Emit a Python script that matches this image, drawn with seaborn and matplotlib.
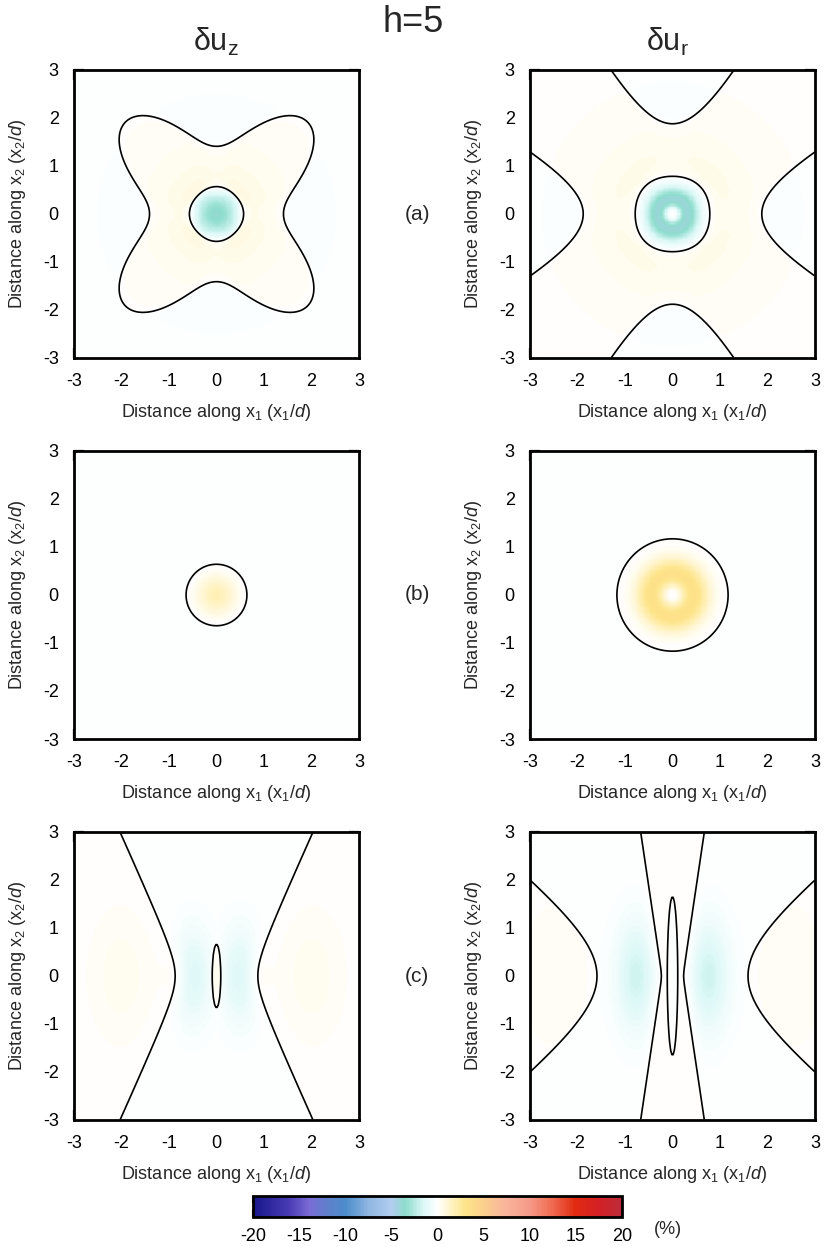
import numpy as np
import matplotlib
matplotlib.use("Agg")
import matplotlib.pyplot as plt
import seaborn as sns
from matplotlib.colors import LinearSegmentedColormap, Normalize
from matplotlib.cm import ScalarMappable

# ---------------- data ----------------
AXIS_TICKS = [-3, -2, -1, 0, 1, 2, 3]
CBAR_TICKS = [-20, -15, -10, -5, 0, 5, 10, 15, 20]
CMAP_VALUES = [-20, -16, -14, -12, -10, -7.5, -5, -3.5, -1.5, 0,
               1.5, 3, 5, 7.5, 10, 12.5, 15, 17.5, 20]
CMAP_COLORS = ["#17168a", "#4b3db5", "#7b6bd6", "#5f80cc", "#4c8ccb",
               "#8fb6e2", "#b2cdee", "#8ddccc", "#dcf8f7", "#ffffff",
               "#fff3c4", "#fde48a", "#fbcf8c", "#f9b39c", "#f59a88",
               "#f06a50", "#e02a10", "#d42024", "#bb2b3a"]
ROW_LABELS = ["(a)", "(b)", "(c)"]
COL_TITLES = [r"δu$_z$", r"δu$_r$"]
TITLE = "h=5"

# zero-contour geometry (x1/d, x2/d units) and colour amplitudes (%)
UZA_INNER = [0.56, -0.01]                # r = a0 - a4 cos4θ
UZA_OUTER = [1.98, 0.65, 0.08]           # r = b0 - b4 cos4θ + b8 cos8θ
UZA_AMP = [3.0, 0.6, 0.12]               # core, mid band, outside

URA_INNER = [0.80, 0.015]                # r = a0 - a4 cos4θ
URA_HYP = [1.88, 1.04]                   # vertex distance, conjugate axis
URA_AMP = [3.3, 0.7, 0.12]               # ring, mid band, outside

UZB_RADIUS = 0.64
UZB_AMP = [1.7, 0.15]

URB_RADIUS = 1.17
URB_AMP = [3.2, 0.15]

UZC_ELLIPSE = [0.09, 0.66]               # semi-axes of small ellipse
UZC_CURVE = [0.87, 0.457, 0.50]          # vertex, slope, rounding
UZC_AMP = [1.4, 0.35, 0.08]              # lobes, far side, base

URC_ELLIPSE = [0.11, 1.65]
URC_VLINE = [0.22, 0.15]                 # half gap at x2=0, slope
URC_HYP = [1.59, 1.25]
URC_AMP = [1.8, 0.2, 0.08]

# ---------------- grid ----------------
N = 240
centers = -3 + (np.arange(N) + 0.5) * 6.0 / N
X, Y = np.meshgrid(centers, centers[::-1])   # rows: top (x2=3) -> bottom
R = np.hypot(X, Y)
TH = np.arctan2(Y, X)
AX_ = np.abs(X)


def ring(r0):
    q = (R / r0) ** 2
    return q * np.exp(1 - q)


def field_uz_a():
    r1 = UZA_INNER[0] - UZA_INNER[1] * np.cos(4 * TH)
    r2 = UZA_OUTER[0] - UZA_OUTER[1] * np.cos(4 * TH) + UZA_OUTER[2] * np.cos(8 * TH)
    P = (R - r1) * (r2 - R)
    M = (UZA_AMP[0] * np.exp(-(R / 0.42) ** 2)
         + UZA_AMP[1] * np.exp(-(R / 1.5) ** 2) + UZA_AMP[2])
    return np.tanh(P / 0.15) * M


def field_ur_a():
    r1 = URA_INNER[0] - URA_INNER[1] * np.cos(4 * TH)
    a, b = URA_HYP
    u = 1 + X ** 2 / b ** 2 - Y ** 2 / a ** 2
    v = 1 + Y ** 2 / b ** 2 - X ** 2 / a ** 2
    Q = np.minimum(u, v)
    P = (R - r1) * Q
    M = (URA_AMP[0] * ring(0.33) + URA_AMP[1] * np.exp(-(R / 1.6) ** 2)
         + URA_AMP[2]) * (1 - np.exp(-(R / 0.12) ** 2))
    return np.tanh(P / 0.2) * M


def field_uz_b():
    P = UZB_RADIUS - R
    M = UZB_AMP[0] * np.exp(-(R / 0.45) ** 2) + UZB_AMP[1]
    return np.tanh(P / 0.25) * M


def field_ur_b():
    P = URB_RADIUS - R
    M = (URB_AMP[0] * ring(0.45) + URB_AMP[1]) * (1 - np.exp(-(R / 0.1) ** 2))
    return np.tanh(P / 0.3) * M


def field_uz_c():
    e = np.sqrt((X / UZC_ELLIPSE[0]) ** 2 + (Y / UZC_ELLIPSE[1]) ** 2) - 1
    w = UZC_CURVE[0] + UZC_CURVE[1] * (np.sqrt(Y ** 2 + UZC_CURVE[2] ** 2) - UZC_CURVE[2])
    g = AX_ - w
    P = np.tanh(e) * g
    M = (UZC_AMP[0] * np.exp(-((AX_ - 0.5) ** 2 / 0.38 ** 2 + Y ** 2 / 0.95 ** 2))
         + UZC_AMP[1] * np.exp(-((AX_ - 2.0) ** 2 / 0.6 ** 2 + Y ** 2 / 1.2 ** 2))
         + UZC_AMP[2])
    return np.tanh(P / 0.25) * M


def field_ur_c():
    e = np.sqrt((X / URC_ELLIPSE[0]) ** 2 + (Y / URC_ELLIPSE[1]) ** 2) - 1
    v = AX_ - (URC_VLINE[0] + URC_VLINE[1] * np.sqrt(Y ** 2 + 0.01))
    h = X ** 2 / URC_HYP[0] ** 2 - Y ** 2 / URC_HYP[1] ** 2 - 1
    P = np.tanh(e) * v * np.tanh(h)
    M = (URC_AMP[0] * np.exp(-((AX_ - 0.75) ** 2 / 0.42 ** 2 + Y ** 2 / 1.1 ** 2))
         + URC_AMP[1] * np.exp(-((AX_ - 2.5) ** 2 / 0.7 ** 2 + Y ** 2 / 1.5 ** 2))
         + URC_AMP[2])
    return np.tanh(P / 0.15) * M


FIELDS = [[field_uz_a(), field_ur_a()],
          [field_uz_b(), field_ur_b()],
          [field_uz_c(), field_ur_c()]]

# ---------------- styling ----------------
sns.set_style("ticks")
plt.rcParams["font.family"] = ["Liberation Sans", "DejaVu Sans"]
plt.rcParams["mathtext.fontset"] = "custom"
plt.rcParams["mathtext.rm"] = "Liberation Sans"
plt.rcParams["mathtext.it"] = "Liberation Sans:italic"
plt.rcParams["mathtext.default"] = "regular"

cmap = LinearSegmentedColormap.from_list(
    "gp", list(zip([(v + 20) / 40 for v in CMAP_VALUES], CMAP_COLORS)))
norm = Normalize(-20, 20)

fig = plt.figure(figsize=(8.24, 12.47), dpi=100)
W, H = 824.0, 1247.0
col_left = [74, 530]
row_top = [70, 451, 832]
aw, ah = 285, 288

xlab = r"Distance along x$_1$ (x$_1$/$\mathit{d}$)"
ylab = r"Distance along x$_2$ (x$_2$/$\mathit{d}$)"

for i in range(3):
    for j in range(2):
        ax = fig.add_axes([col_left[j] / W, 1 - (row_top[i] + ah) / H, aw / W, ah / H])
        Z = FIELDS[i][j]
        sns.heatmap(Z, ax=ax, cmap=cmap, vmin=-20, vmax=20, cbar=False,
                    xticklabels=False, yticklabels=False, rasterized=True)
        idx = np.arange(N) + 0.5
        ax.contour(idx, idx, Z, levels=[0], colors="black", linewidths=1.2)
        ax.set_xlim(0, N)
        ax.set_ylim(N, 0)
        ax.set_xticks([(t + 3) / 6 * N for t in AXIS_TICKS])
        ax.set_xticklabels([str(t) for t in AXIS_TICKS])
        ax.set_yticks([(3 - t) / 6 * N for t in AXIS_TICKS])
        ax.set_yticklabels([str(t) for t in AXIS_TICKS])
        ax.tick_params(direction="in", length=7, width=1.6, top=True, right=True,
                       labelsize=13, colors="black")
        ax.tick_params(axis="x", pad=10.5)
        ax.tick_params(axis="y", pad=11)
        for s in ax.spines.values():
            s.set_visible(True)
            s.set_linewidth(2)
            s.set_color("black")
        ax.set_xlabel(xlab, fontsize=13)
        ax.set_ylabel(ylab, fontsize=13)
        ax.xaxis.set_label_coords(0.5, -44 / ah)
        ax.yaxis.set_label_coords(-46 / aw, 0.5)

for i, lab in enumerate(ROW_LABELS):
    fig.text(417 / W, 1 - (row_top[i] + ah / 2) / H, lab, ha="center", va="center", fontsize=15)

fig.text(413 / W, 1 - 22 / H, TITLE, ha="center", va="center", fontsize=26)
fig.text(216 / W, 1 - 42 / H, COL_TITLES[0], ha="center", va="center", fontsize=22)
fig.text(668 / W, 1 - 42 / H, COL_TITLES[1], ha="center", va="center", fontsize=22)

cax = fig.add_axes([253 / W, 1 - 1217 / H, 369 / W, 21 / H])
cb = fig.colorbar(ScalarMappable(norm=norm, cmap=cmap), cax=cax,
                  orientation="horizontal", ticks=CBAR_TICKS)
cb.ax.set_xticklabels([str(t) for t in CBAR_TICKS])
cb.ax.tick_params(direction="in", length=5, width=1.5, top=True, bottom=True,
                  labelsize=13, pad=8, colors="black")
cb.outline.set_linewidth(2)
cb.outline.set_edgecolor("black")
fig.text(668 / W, 1 - 1229 / H, "(%)", ha="center", va="center", fontsize=13)

fig.savefig("out.png", dpi=100)
